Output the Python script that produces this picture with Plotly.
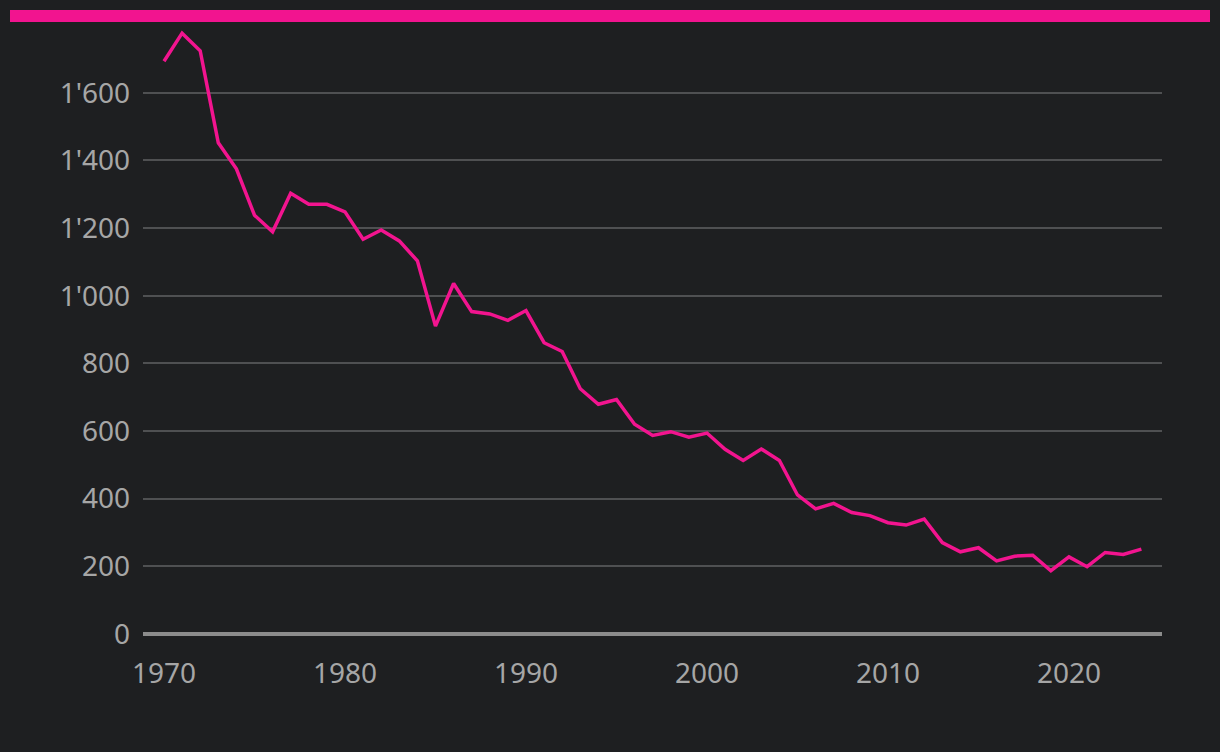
import plotly.graph_objects as go

years = list(range(1970, 2025))
values = [1693, 1776, 1724, 1452, 1375, 1238, 1189, 1303, 1270, 1270,
          1248, 1167, 1194, 1162, 1103, 910, 1036, 953, 946, 927,
          956, 861, 835, 725, 679, 693, 620, 587, 598, 582,
          594, 546, 513, 547, 513, 411, 370, 386, 359, 350,
          329, 322, 340, 270, 243, 255, 216, 230, 233, 187,
          228, 199, 241, 235, 251]

y_tickvals = [0, 200, 400, 600, 800, 1000, 1200, 1400, 1600]
y_ticktext = ["0", "200", "400", "600", "800", "1'000", "1'200", "1'400", "1'600"]
x_tickvals = [1970, 1980, 1990, 2000, 2010, 2020]
x_ticktext = ["1970", "1980", "1990", "2000", "2010", "2020"]

BG = "#1e1f21"
PINK = "#f2148f"
TXT = "#a6a6a6"

fig = go.Figure()
fig.add_trace(go.Scatter(x=years, y=values, mode="lines",
                         line=dict(color=PINK, width=3.5), hoverinfo="x+y"))

fig.update_layout(
    width=1220, height=752,
    paper_bgcolor=BG, plot_bgcolor=BG,
    margin=dict(l=143, r=58, t=22, b=118),
    showlegend=False,
    font=dict(family="Noto Sans", color=TXT, size=28),
    xaxis=dict(range=[1968.84, 2025.14], tickvals=x_tickvals, ticktext=x_ticktext,
               showgrid=False, zeroline=False, showline=False,
               ticks="", ticklabelstandoff=20,
               tickfont=dict(size=28, color=TXT)),
    yaxis=dict(range=[0, 1809], tickvals=y_tickvals, ticktext=y_ticktext,
               showgrid=True, gridcolor="#4f5052", gridwidth=2,
               zeroline=False, showline=False, ticks="", ticklabelstandoff=12,
               tickfont=dict(size=28, color=TXT)),
    shapes=[
        dict(type="line", xref="paper", yref="paper", x0=0, x1=1, y0=0, y1=0,
             line=dict(color="#8c8c8c", width=4), layer="below"),
        dict(type="rect", xref="paper", yref="paper",
             x0=(10 - 143) / 1019, x1=(1210 - 143) / 1019,
             y0=1.0, y1=(634 - 10) / 612,
             fillcolor=PINK, line=dict(width=0)),
    ],
)

fig.write_html("out.html",
               config={"displayModeBar": False},
               post_script="document.body.style.margin='0';document.body.style.background='#1e1f21';")
